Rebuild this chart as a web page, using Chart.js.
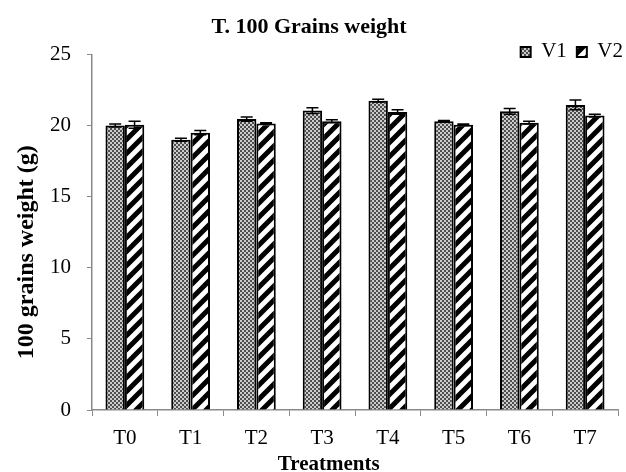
<!DOCTYPE html>
<html>
<head>
<meta charset="utf-8">
<script src="https://cdn.jsdelivr.net/npm/chart.js@4"></script>
<style>
  html, body { margin: 0; padding: 0; background: #fff; }
  #wrap { width: 626px; height: 472px; }
</style>
</head>
<body>
<div id="wrap"><canvas id="chart" width="626" height="472"></canvas></div>
<script>
const categories = ['T0', 'T1', 'T2', 'T3', 'T4', 'T5', 'T6', 'T7'];
const v1Values = [20.0, 19.0, 20.45, 21.05, 21.75, 20.3, 21.0, 21.45];
const v2Values = [20.05, 19.5, 20.15, 20.3, 20.95, 20.05, 20.2, 20.7];
const v1Errors = [0.1, 0.1, 0.15, 0.2, 0.1, 0.05, 0.2, 0.35];
const v2Errors = [0.25, 0.15, 0.05, 0.1, 0.15, 0.05, 0.1, 0.1];

const serif = "'Liberation Serif', 'Times New Roman', serif";
const axisGray = '#8a8a8a';

// small gray checker fill for V1
function checkerPattern() {
    const c = document.createElement('canvas');
    c.width = 4; c.height = 4;
    const g = c.getContext('2d');
    g.fillStyle = '#4e4e4e';
    g.fillRect(0, 0, 4, 4);
    g.fillStyle = '#cccccc';
    g.fillRect(0, 0, 2, 2);
    g.fillRect(2, 2, 2, 2);
    return g.createPattern(c, 'repeat');
}

// wide black diagonal stripes for V2
function stripePattern() {
    const s = 14;
    const c = document.createElement('canvas');
    c.width = s; c.height = s;
    const g = c.getContext('2d');
    g.fillStyle = '#fff';
    g.fillRect(0, 0, s, s);
    g.strokeStyle = '#000';
    g.lineWidth = 5;
    g.beginPath();
    g.moveTo(-s, 2 * s); g.lineTo(2 * s, -s);
    g.moveTo(-s, s); g.lineTo(s, -s);
    g.moveTo(0, 2 * s); g.lineTo(2 * s, 0);
    g.stroke();
    return g.createPattern(c, 'repeat');
}

const errorBars = {
    id: 'errorBars',
    afterDatasetsDraw(chart) {
        const ctx = chart.ctx;
        const yScale = chart.scales.y;
        ctx.save();
        ctx.strokeStyle = '#000';
        ctx.lineWidth = 1.5;
        chart.data.datasets.forEach((ds, i) => {
            const meta = chart.getDatasetMeta(i);
            meta.data.forEach((bar, j) => {
                const v = ds.data[j];
                const e = ds.errors[j];
                const top = yScale.getPixelForValue(v + e);
                const bot = yScale.getPixelForValue(v - e);
                const half = 6;
                ctx.beginPath();
                ctx.moveTo(bar.x, top); ctx.lineTo(bar.x, bot);
                ctx.moveTo(bar.x - half, top); ctx.lineTo(bar.x + half, top);
                ctx.moveTo(bar.x - half, bot); ctx.lineTo(bar.x + half, bot);
                ctx.stroke();
            });
        });
        ctx.restore();
    }
};

// legend sits lower and further right than the layout puts it
const legendNudge = {
    id: 'legendNudge',
    afterLayout(chart) {
        const lg = chart.legend;
        lg.top += 18; lg.bottom += 18;
        lg.left += 15; lg.right += 15;
    }
};

// axis titles, both a bit off-centre in the original
const axisTitles = {
    id: 'axisTitles',
    afterDraw(chart) {
        const a = chart.chartArea;
        const ctx = chart.ctx;
        ctx.save();
        ctx.fillStyle = '#000';
        ctx.textAlign = 'center';
        ctx.textBaseline = 'alphabetic';
        ctx.font = 'bold 21px ' + serif;
        ctx.fillText('Treatments', a.left + (a.right - a.left) * 0.45, chart.height - 2);
        ctx.translate(33, (a.top + a.bottom) / 2 + 20);
        ctx.rotate(-Math.PI / 2);
        ctx.font = 'bold 24px ' + serif;
        ctx.fillText('100 grains weight (g)', 0, 0);
        ctx.restore();
    }
};

new Chart(document.getElementById('chart'), {
    type: 'bar',
    data: {
        labels: categories,
        datasets: [
            {
                label: 'V1',
                data: v1Values,
                errors: v1Errors,
                backgroundColor: checkerPattern(),
                borderColor: '#000',
                borderWidth: 2
            },
            {
                label: 'V2',
                data: v2Values,
                errors: v2Errors,
                backgroundColor: stripePattern(),
                borderColor: '#000',
                borderWidth: 2
            }
        ]
    },
    options: {
        responsive: false,
        animation: false,
        datasets: {
            bar: { categoryPercentage: 0.59, barPercentage: 1.0 }
        },
        layout: { padding: { left: 0, right: 8, top: 0, bottom: 0 } },
        plugins: {
            title: {
                display: true,
                text: 'T. 100 Grains weight',
                color: '#000',
                font: { family: serif, size: 22, weight: 'bold' },
                padding: { top: 14, bottom: -27 }
            },
            legend: {
                position: 'top',
                align: 'end',
                labels: {
                    color: '#000',
                    font: { family: serif, size: 21 },
                    boxWidth: 10,
                    boxHeight: 10,
                    padding: 10
                }
            },
            tooltip: { enabled: false }
        },
        scales: {
            x: {
                grid: {
                    offset: true,
                    drawOnChartArea: false,
                    drawTicks: true,
                    tickLength: 6,
                    color: axisGray
                },
                border: { color: axisGray, width: 1.5 },
                ticks: {
                    color: '#000',
                    font: { family: serif, size: 21 },
                    padding: 10
                },
                afterFit(scale) { scale.height = 62; }
            },
            y: {
                min: 0,
                max: 25,
                ticks: {
                    stepSize: 5,
                    color: '#000',
                    font: { family: serif, size: 21 },
                    padding: 16
                },
                grid: {
                    drawOnChartArea: false,
                    drawTicks: true,
                    tickLength: 5,
                    color: axisGray
                },
                border: { color: axisGray, width: 1.5 },
                afterFit(scale) { scale.width = 92; }
            }
        }
    },
    plugins: [errorBars, legendNudge, axisTitles]
});
</script>
</body>
</html>
